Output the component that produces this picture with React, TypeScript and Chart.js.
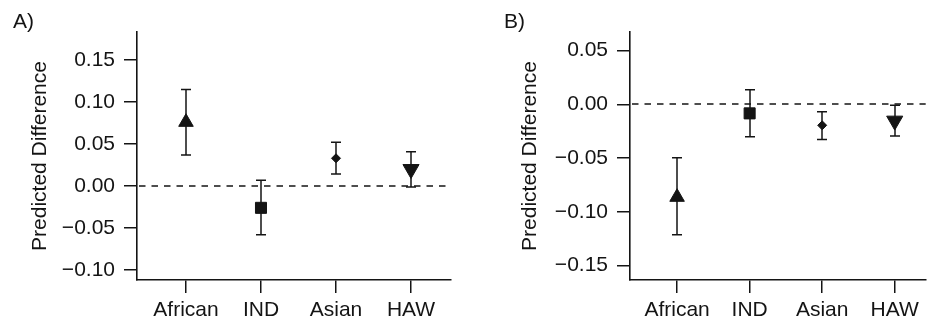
import React, { useEffect, useRef } from 'react';
import { Chart, registerables } from 'chart.js';

Chart.register(...registerables);

// ---- data ----
const categories = ['African', 'IND', 'Asian', 'HAW'];

const estimateA = [0.076, -0.026, 0.033, 0.02];
const lowerA = [0.037, -0.058, 0.0143, -0.0012];
const upperA = [0.115, 0.0068, 0.052, 0.0408];

const estimateB = [-0.0863, -0.0084, -0.0195, -0.0153];
const lowerB = [-0.1213, -0.0301, -0.0326, -0.0295];
const upperB = [-0.0497, 0.0136, -0.0069, -0.0009];

const yTicksA = [-0.1, -0.05, 0, 0.05, 0.1, 0.15];
const yTicksB = [-0.15, -0.1, -0.05, 0, 0.05];

const panelLabels = ['A)', 'B)'];
const yTitle = 'Predicted Difference';

// ---- styles ----
const INK = '#141414';
const FONT = "'Liberation Sans', Arial, Helvetica, sans-serif";
const markerStyles = ['triangle', 'rect', 'rectRot', 'triangle'];
const markerRotation = [0, 0, 0, 180];
const markerRadius = [8.4, 7.8, 4.5, 9.3];

function fmt(v: number) {
  const r = Math.round(v * 100) / 100;
  if (Math.abs(r) < 1e-9) return '0.00';
  return (r < 0 ? '\u2212' : '') + Math.abs(r).toFixed(2);
}

function makeErrorPlugin(lower: number[], upper: number[]) {
  return {
    id: 'errorBars',
    beforeDatasetsDraw(chart: any) {
      const { ctx, chartArea, scales } = chart;
      const xs = scales.x;
      const ys = scales.y;
      ctx.save();
      ctx.strokeStyle = INK;
      ctx.lineWidth = 1.5;
      // zero reference line
      const y0 = Math.round(ys.getPixelForValue(0));
      ctx.setLineDash([6.5, 6]);
      ctx.beginPath();
      ctx.moveTo(chartArea.left + 2, y0);
      ctx.lineTo(chartArea.right, y0);
      ctx.stroke();
      ctx.setLineDash([]);
      // error bars
      lower.forEach((lo, i) => {
        const px = Math.round(xs.getPixelForValue(i + 1));
        const pl = ys.getPixelForValue(lo);
        const ph = ys.getPixelForValue(upper[i]);
        ctx.beginPath();
        ctx.moveTo(px, pl);
        ctx.lineTo(px, ph);
        ctx.moveTo(px - 5, pl);
        ctx.lineTo(px + 5, pl);
        ctx.moveTo(px - 5, ph);
        ctx.lineTo(px + 5, ph);
        ctx.stroke();
      });
      ctx.restore();
    },
  };
}

type PanelProps = {
  estimate: number[];
  lower: number[];
  upper: number[];
  yTicks: number[];
  yMin: number;
  yMax: number;
  xMin: number;
  xMax: number;
  axisWidth: number;
  padRight: number;
  titlePad: number;
};

function Panel(p: PanelProps) {
  const ref = useRef<HTMLCanvasElement>(null);
  useEffect(() => {
    if (!ref.current) return;
    const chart = new Chart(ref.current, {
      type: 'scatter',
      data: {
        datasets: [
          {
            data: p.estimate.map((v, i) => ({ x: i + 1, y: v })),
            pointStyle: markerStyles as any,
            rotation: markerRotation as any,
            pointRadius: markerRadius as any,
            pointBackgroundColor: INK,
            pointBorderColor: INK,
            pointBorderWidth: 1,
            showLine: false,
          } as any,
        ],
      },
      options: {
        animation: false,
        responsive: false,
        events: [],
        layout: { padding: { left: 0, top: 32, right: p.padRight, bottom: 0 } },
        plugins: { legend: { display: false }, tooltip: { enabled: false } },
        scales: {
          x: {
            type: 'linear',
            min: p.xMin,
            max: p.xMax,
            afterBuildTicks: (s: any) => {
              s.ticks = categories.map((_, i) => ({ value: i + 1 }));
            },
            afterFit: (s: any) => {
              s.height = 42;
            },
            ticks: {
              callback: (v: any) => categories[Math.round(Number(v)) - 1] ?? '',
              color: INK,
              font: { family: FONT, size: 21 },
              padding: 5,
              maxRotation: 0,
              autoSkip: false,
            },
            grid: {
              drawOnChartArea: false,
              drawTicks: true,
              tickLength: 13,
              color: INK,
              lineWidth: 1.5,
            },
            border: { display: true, color: INK, width: 1.6 },
          },
          y: {
            type: 'linear',
            min: p.yMin,
            max: p.yMax,
            afterBuildTicks: (s: any) => {
              s.ticks = p.yTicks.map((v) => ({ value: v }));
            },
            afterFit: (s: any) => {
              s.width = p.axisWidth;
            },
            ticks: {
              callback: (v: any) => fmt(Number(v)),
              color: INK,
              font: { family: FONT, size: 21 },
              padding: 9,
            },
            grid: {
              drawOnChartArea: false,
              drawTicks: true,
              tickLength: 13,
              color: INK,
              lineWidth: 1.5,
            },
            border: { display: true, color: INK, width: 1.6 },
            title: {
              display: true,
              text: yTitle,
              color: INK,
              font: { family: FONT, size: 21 },
              padding: { top: p.titlePad, bottom: 0 },
            },
          },
        },
      },
      plugins: [makeErrorPlugin(p.lower, p.upper)],
    } as any);
    return () => chart.destroy();
  }, []);
  return <canvas ref={ref} width={468} height={322} style={{ display: 'block' }} />;
}

export default function App() {
  useEffect(() => {
    document.body.style.margin = '0';
  }, []);
  const labelStyle: React.CSSProperties = {
    position: 'absolute',
    top: 10,
    fontFamily: FONT,
    fontSize: 21,
    lineHeight: '21px',
    color: INK,
  };
  return (
    <div style={{ position: 'relative', width: 936, height: 322, display: 'flex', background: '#fff', overflow: 'hidden' }}>
      <Panel
        estimate={estimateA}
        lower={lowerA}
        upper={upperA}
        yTicks={yTicksA}
        yMin={-0.1119}
        yMax={0.1833}
        xMin={0.347}
        xMax={4.533}
        axisWidth={137}
        padRight={17}
        titlePad={28}
      />
      <Panel
        estimate={estimateB}
        lower={lowerB}
        upper={upperB}
        yTicks={yTicksB}
        yMin={-0.1634}
        yMax={0.0673}
        xMin={0.351}
        xMax={4.427}
        axisWidth={162}
        padRight={0}
        titlePad={50}
      />
      <div style={{ ...labelStyle, left: 13 }}>{panelLabels[0]}</div>
      <div style={{ ...labelStyle, left: 504 }}>{panelLabels[1]}</div>
    </div>
  );
}
